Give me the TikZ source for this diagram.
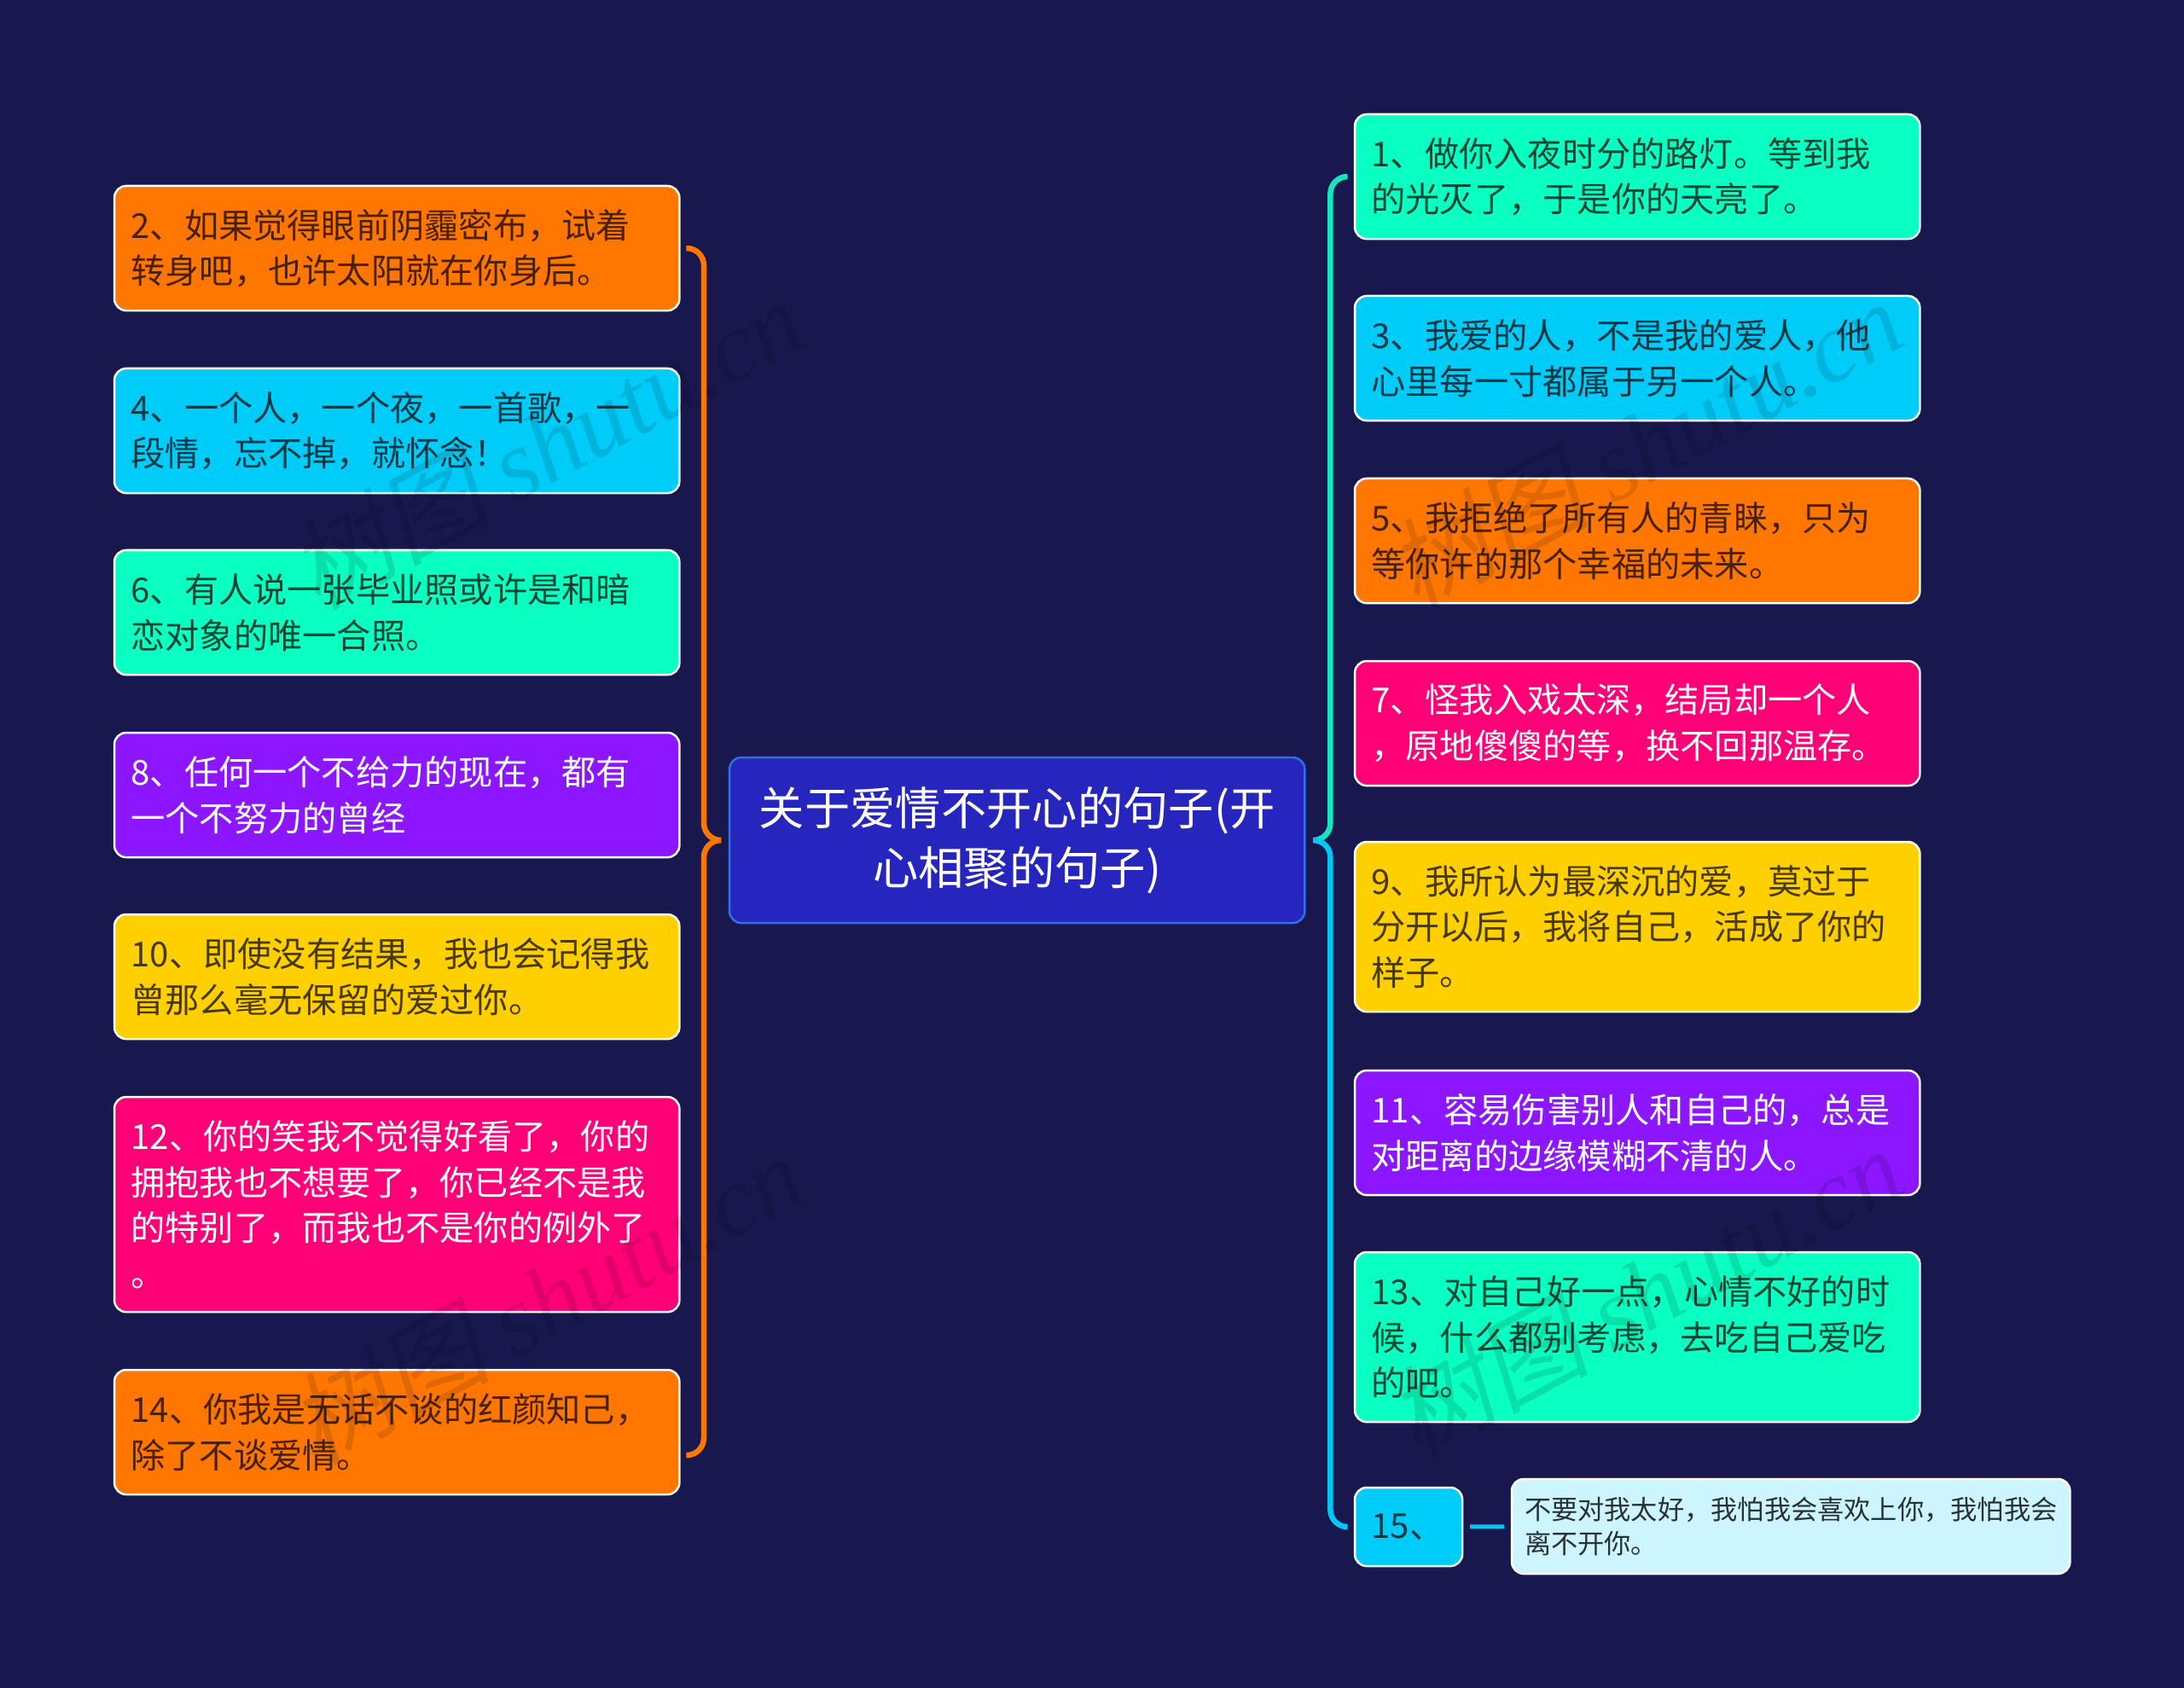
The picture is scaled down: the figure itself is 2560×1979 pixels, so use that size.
\documentclass[tikz,border=0pt]{standalone}
\usepackage{fontspec}
\setmainfont{Noto Sans CJK SC}
\newfontfamily\markcjk[FakeSlant=0.2]{Noto Sans CJK SC}
\newfontfamily\marklatin{Liberation Serif}
\usetikzlibrary{calc}
\definecolor{navybg}{HTML}{18184F}
\definecolor{rootblue}{HTML}{2626BE}
\definecolor{rootedge}{HTML}{2F6FE8}
\definecolor{orangetopic}{HTML}{FF7700}
\definecolor{cyantopic}{HTML}{00CCF9}
\definecolor{greentopic}{HTML}{0AFFC2}
\definecolor{purpletopic}{HTML}{8B16FF}
\definecolor{yellowtopic}{HTML}{FFD000}
\definecolor{pinktopic}{HTML}{FF0077}
\definecolor{leafblue}{HTML}{CCF5FF}
\definecolor{greenbrace}{HTML}{14E6BE}
\definecolor{cyanbrace}{HTML}{00C8F5}
\tikzset{
  box/.style = {rectangle, anchor = north west, rounded corners = 0.14cm, draw = white,
    line width = 0.025cm, inner ysep = 0pt, outer sep = 0pt, align = left},
  topic/.style = {box, minimum width = 6.62cm, minimum height = 1.46cm, text width = 6.23cm,
    inner xsep = 0.195cm, text = black, text opacity = 0.72,
    font = \fontsize{11.44}{15.25}\selectfont},
  whitetopic/.style = {topic, text = white, text opacity = 1},
  rootbox/.style = {box, draw = rootedge, fill = rootblue, minimum width = 6.74cm,
    minimum height = 1.94cm, text width = 6.2cm, inner xsep = 0.27cm, align = center,
    text = white, font = \fontsize{15.16}{19.75}\selectfont},
  leafbox/.style = {box, fill = leafblue, minimum width = 6.54cm, minimum height = 1.11cm,
    text width = 6.24cm, inner xsep = 0.15cm, text = black, text opacity = 0.8,
    font = \fontsize{8.88}{11.38}\selectfont},
  brace/.style = {line width = 0.065cm, rounded corners = 0.2cm},
  shutumark/.style = {rotate = 28.5, text = black, text opacity = 0.12, inner sep = 0pt,
    font = \fontsize{33.5}{33.5}\selectfont}
}
\newcommand{\shutu}{{\markcjk 树图} {\marklatin\itshape shutu.cn}}
\begin{document}
\begin{tikzpicture}[x = 0.01cm, y = 0.01cm]
  \fill [navybg] (0,0) rectangle (2560,-1979);
  \useasboundingbox (0,0) rectangle (2560,-1979);
  % centre
  \node [rootbox] (root) at (855,-888) {关于爱情不开心的句子(开\\心相聚的句子)};
  % left side
  \node [topic, fill = orangetopic] (t2) at (134,-218) {2、如果觉得眼前阴霾密布，试着\\转身吧，也许太阳就在你身后。};
  \node [topic, fill = cyantopic] (t4) at (134,-432) {4、一个人，一个夜，一首歌，一\\段情，忘不掉，就怀念！};
  \node [topic, fill = greentopic] (t6) at (134,-645) {6、有人说一张毕业照或许是和暗\\恋对象的唯一合照。};
  \node [whitetopic, fill = purpletopic] (t8) at (134,-859) {8、任何一个不给力的现在，都有\\一个不努力的曾经};
  \node [topic, fill = yellowtopic] (t10) at (134,-1072) {10、即使没有结果，我也会记得我\\曾那么毫无保留的爱过你。};
  \node [whitetopic, fill = pinktopic, minimum height = 2.52cm] (t12) at (134,-1286) {12、你的笑我不觉得好看了，你的\\拥抱我也不想要了，你已经不是我\\的特别了，而我也不是你的例外了\\。};
  \node [topic, fill = orangetopic] (t14) at (134,-1606) {14、你我是无话不谈的红颜知己，\\除了不谈爱情。};
  % right side
  \node [topic, fill = greentopic] (t1) at (1588,-134) {1、做你入夜时分的路灯。等到我\\的光灭了，于是你的天亮了。};
  \node [topic, fill = cyantopic] (t3) at (1588,-347) {3、我爱的人，不是我的爱人，他\\心里每一寸都属于另一个人。};
  \node [topic, fill = orangetopic] (t5) at (1588,-561) {5、我拒绝了所有人的青睐，只为\\等你许的那个幸福的未来。};
  \node [whitetopic, fill = pinktopic] (t7) at (1588,-775) {7、怪我入戏太深，结局却一个人\\，原地傻傻的等，换不回那温存。};
  \node [topic, fill = yellowtopic, minimum height = 1.99cm] (t9) at (1588,-987) {9、我所认为最深沉的爱，莫过于\\分开以后，我将自己，活成了你的\\样子。};
  \node [whitetopic, fill = purpletopic] (t11) at (1588,-1255) {11、容易伤害别人和自己的，总是\\对距离的边缘模糊不清的人。};
  \node [topic, fill = greentopic, minimum height = 1.99cm] (t13) at (1588,-1468) {13、对自己好一点，心情不好的时\\候，什么都别考虑，去吃自己爱吃\\的吧。};
  \node [topic, fill = cyantopic, minimum width = 1.26cm, minimum height = 0.92cm, text width = 0.87cm] (t15) at (1588,-1744) {15、};
  \node [leafbox] (leaf15) at (1772,-1734) {不要对我太好，我怕我会喜欢上你，我怕我会\\离不开你。};
  % braces
  \coordinate (lspine) at ($(root.west)+(-30,0)$);
  \coordinate (ltip) at ($(root.west)+(-10,0)$);
  \coordinate (rspine) at ($(root.east)+(30,0)$);
  \coordinate (rtip) at ($(root.east)+(11,0)$);
  \coordinate (lend2) at ($(t2.east)+(8,0)$);
  \coordinate (lend14) at ($(t14.east)+(8,-27)$);
  \coordinate (rend1) at ($(t1.west)+(-9,0)$);
  \coordinate (rend15) at ($(t15.west)+(-9,0)$);
  \draw [brace, orangetopic] (lend2) -| (lspine) -- (ltip);
  \draw [brace, orangetopic] (lend14) -| (lspine) -- (ltip);
  \draw [brace, greenbrace] (rend1) -| (rspine) -- (rtip);
  \draw [brace, cyanbrace] (rend15) -| (rspine) -- (rtip);
  \draw [cyanbrace, line width = 0.05cm, shorten <= 0.09cm, shorten >= 0.09cm] (t15) -- (leaf15);
  % watermark
  \node [shutumark] (mark1) at (640,-520) {\shutu};
  \node [shutumark] (mark2) at (1928,-520) {\shutu};
  \node [shutumark] (mark3) at (640,-1522) {\shutu};
  \node [shutumark] (mark4) at (1928,-1514) {\shutu};
\end{tikzpicture}
\end{document}
